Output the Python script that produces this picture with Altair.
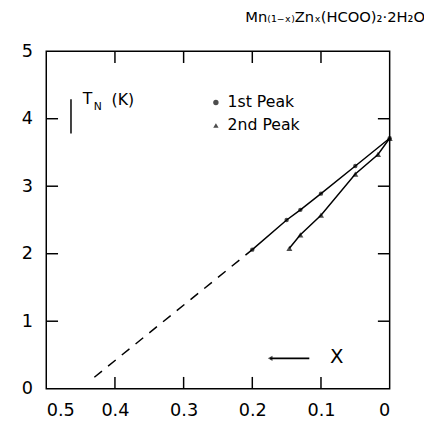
import altair as alt
import pandas as pd

# ---- data ----
peak1_x = [0.0, 0.05, 0.10, 0.13, 0.15, 0.20]
peak1_y = [3.71, 3.30, 2.89, 2.65, 2.50, 2.06]
peak2_x = [0.0, 0.017, 0.05, 0.10, 0.13, 0.146]
peak2_y = [3.71, 3.47, 3.18, 2.57, 2.28, 2.08]
extrap_x = [0.20, 0.43]
extrap_y = [2.06, 0.17]

x_ticks = [0.1, 0.2, 0.3, 0.4]
y_ticks = [1, 2, 3, 4]
x_labels = [0.5, 0.4, 0.3, 0.2, 0.1, 0.0]
y_labels = [0, 1, 2, 3, 4, 5]

title_text = "Mn₍₁₋ₓ₎Znₓ(HCOO)₂·2H₂O"

W, H = 350, 344
FONT = "DejaVu Sans"

xs = alt.Scale(domain=[0, 0.5], reverse=True, nice=False)
ys = alt.Scale(domain=[0, 5], nice=False)

p1 = pd.DataFrame({"x": peak1_x, "y": peak1_y})
p2 = pd.DataFrame({"x": peak2_x, "y": peak2_y})
ex = pd.DataFrame({"x": extrap_x, "y": extrap_y})
xt = pd.DataFrame({"v": x_ticks})
yt = pd.DataFrame({"v": y_ticks})

X = alt.X("x:Q", scale=xs, axis=alt.Axis(
    values=x_labels, title=None, grid=False, ticks=False, domain=False,
    labelFontSize=18, labelFont=FONT, labelColor="black", labelPadding=13,
    labelExpr="datum.value == 0 ? '0' : format(datum.value, '.1f')"))
Y = alt.Y("y:Q", scale=ys, axis=alt.Axis(
    values=y_labels, title=None, grid=False, ticks=False, domain=False,
    labelFontSize=18, labelFont=FONT, labelColor="black", labelPadding=14,
    format="d"))

line1 = alt.Chart(p1).mark_line(color="black", strokeWidth=1.5).encode(x=X, y=Y)
pts1 = alt.Chart(p1).mark_point(shape="circle", filled=True, color="black", size=20).encode(
    x=alt.X("x:Q", scale=xs), y=alt.Y("y:Q", scale=ys))
line2 = alt.Chart(p2).mark_line(color="black", strokeWidth=1.5).encode(
    x=alt.X("x:Q", scale=xs), y=alt.Y("y:Q", scale=ys))
pts2 = alt.Chart(p2).mark_point(shape="triangle-up", filled=True, color="black", size=38).encode(
    x=alt.X("x:Q", scale=xs), y=alt.Y("y:Q", scale=ys))
dash = alt.Chart(ex).mark_line(color="black", strokeWidth=1.5, strokeDash=[10, 8]).encode(
    x=alt.X("x:Q", scale=xs), y=alt.Y("y:Q", scale=ys))

TL = 12
tick_top = alt.Chart(xt).mark_rule(color="black", strokeWidth=1.5).encode(
    x=alt.X("v:Q", scale=xs), y=alt.value(0), y2=alt.value(TL))
tick_bot = alt.Chart(xt).mark_rule(color="black", strokeWidth=1.5).encode(
    x=alt.X("v:Q", scale=xs), y=alt.value(H), y2=alt.value(H - TL))
tick_left = alt.Chart(yt).mark_rule(color="black", strokeWidth=1.5).encode(
    y=alt.Y("v:Q", scale=ys), x=alt.value(0), x2=alt.value(TL))
tick_right = alt.Chart(yt).mark_rule(color="black", strokeWidth=1.5).encode(
    y=alt.Y("v:Q", scale=ys), x=alt.value(W), x2=alt.value(W - TL))

# legend
leg_sym = pd.DataFrame({"x": [0.253, 0.253], "y": [4.24, 3.90], "s": ["circle", "triangle-up"]})
leg_txt = pd.DataFrame({"x": [0.236, 0.236], "y": [4.24, 3.90], "t": ["1st Peak", "2nd Peak"]})
legend_pts = alt.Chart(leg_sym).mark_point(filled=True, color="black", size=30).encode(
    x=alt.X("x:Q", scale=xs), y=alt.Y("y:Q", scale=ys),
    shape=alt.Shape("s:N", scale=alt.Scale(domain=["circle", "triangle-up"],
                                           range=["circle", "triangle-up"]), legend=None))
legend_text = alt.Chart(leg_txt).mark_text(align="left", baseline="middle", fontSize=16,
                                           font=FONT, color="black").encode(
    x=alt.X("x:Q", scale=xs), y=alt.Y("y:Q", scale=ys), text="t:N")

# T_N (K) label
tn_main = pd.DataFrame({"x": [0.447, 0.405], "y": [4.29, 4.28], "t": ["T", "(K)"]})
tn_sub = pd.DataFrame({"x": [0.431], "y": [4.17], "t": ["N"]})
tn_text = alt.Chart(tn_main).mark_text(align="left", baseline="middle", fontSize=16,
                                       font=FONT, color="black").encode(
    x=alt.X("x:Q", scale=xs), y=alt.Y("y:Q", scale=ys), text="t:N")
tn_subt = alt.Chart(tn_sub).mark_text(align="left", baseline="middle", fontSize=11,
                                      font=FONT, color="black").encode(
    x=alt.X("x:Q", scale=xs), y=alt.Y("y:Q", scale=ys), text="t:N")
bar = pd.DataFrame({"x": [0.464], "y": [4.29], "y2": [3.78]})
tn_bar = alt.Chart(bar).mark_rule(color="black", strokeWidth=1.5).encode(
    x=alt.X("x:Q", scale=xs), y=alt.Y("y:Q", scale=ys), y2="y2:Q")

# arrow  <-- X
arr = pd.DataFrame({"x": [0.174], "x2": [0.117], "y": [0.45]})
arrow_line = alt.Chart(arr).mark_rule(color="black", strokeWidth=1.8).encode(
    x=alt.X("x:Q", scale=xs), x2="x2:Q", y=alt.Y("y:Q", scale=ys))
arrow_head = alt.Chart(arr).mark_point(shape="triangle-left", filled=True, color="black",
                                       size=30).encode(
    x=alt.X("x:Q", scale=xs), y=alt.Y("y:Q", scale=ys))
xl = pd.DataFrame({"x": [0.077], "y": [0.47], "t": ["X"]})
x_text = alt.Chart(xl).mark_text(align="center", baseline="middle", fontSize=20,
                                 font=FONT, color="black").encode(
    x=alt.X("x:Q", scale=xs), y=alt.Y("y:Q", scale=ys), text="t:N")

chart = alt.layer(
    dash, line1, line2, pts1, pts2,
    tick_top, tick_bot, tick_left, tick_right,
    legend_pts, legend_text, tn_text, tn_subt, tn_bar,
    arrow_line, arrow_head, x_text,
).properties(
    width=W, height=H,
    title=alt.TitleParams(title_text, anchor="end", fontSize=15, font=FONT,
                          fontWeight="normal", color="black", dx=33, offset=18),
    autosize=alt.AutoSizeParams(type="none"),
    padding={"left": 39, "top": 40, "right": 35, "bottom": 36},
).configure(background="white").configure_view(stroke="black", strokeWidth=1.5)

chart.save("out.html", embed_options={"renderer": "svg", "actions": False})
